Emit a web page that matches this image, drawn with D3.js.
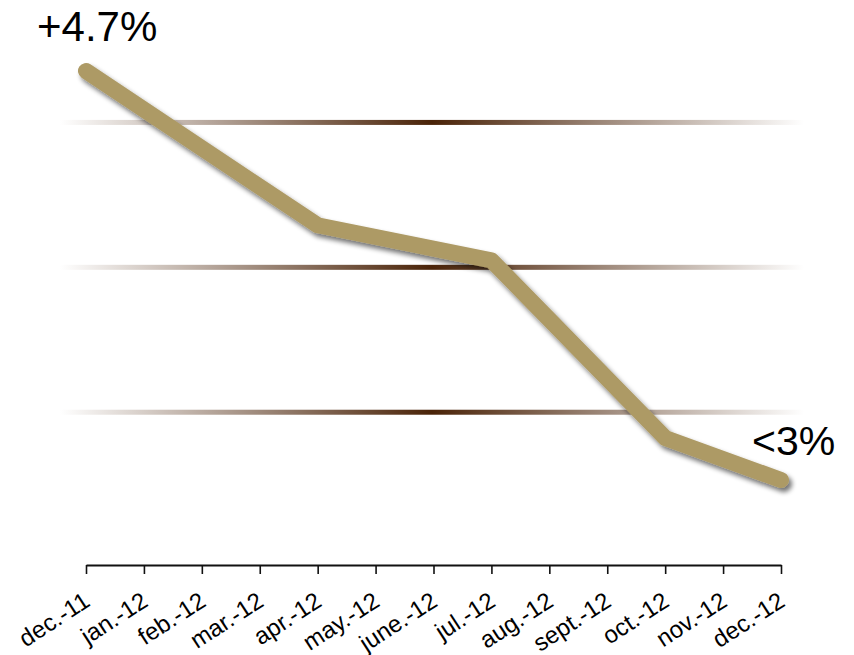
<!DOCTYPE html>
<html>
<head>
<meta charset="utf-8">
<script src="https://cdn.jsdelivr.net/npm/d3@7"></script>
<style>
  html, body { margin: 0; padding: 0; background: #fff; }
  svg { display: block; }
  text { font-family: "Liberation Sans", Arial, sans-serif; }
</style>
</head>
<body>
<svg id="chart" width="854" height="655"></svg>
<script>
// Monthly categories along the x axis
const months = ["dec.-11", "jan.-12", "feb.-12", "mar.-12", "apr.-12", "may.-12",
  "june.-12", "jul.-12", "aug.-12", "sept.-12", "oct.-12", "nov.-12", "dec.-12"];

// Growth rate (%) at the turning points of the trend
const pointMonths = ["dec.-11", "apr.-12", "jul.-12", "oct.-12", "dec.-12"];
const pointValues = [4.7, 4.04, 3.89, 3.13, 2.95];

// Horizontal reference levels (%)
const gridValues = [4.48, 3.86, 3.24];

// End-point annotations
const labelTexts = ["+4.7%", "<3%"];

const svg = d3.select("#chart");

const x = d3.scalePoint().domain(months).range([86, 781]);
const y = d3.scaleLinear().domain([2.95, 4.7]).range([480, 71]);

const defs = svg.append("defs");

// Gridline gradient: fades in from the edges to a dark brown centre
const grad = defs.append("linearGradient")
  .attr("id", "gridGrad")
  .attr("gradientUnits", "userSpaceOnUse")
  .attr("x1", 60).attr("x2", 804).attr("y1", 0).attr("y2", 0);
grad.append("stop").attr("offset", "0%").attr("stop-color", "#ffffff");
grad.append("stop").attr("offset", "50%").attr("stop-color", "#4a2308");
grad.append("stop").attr("offset", "100%").attr("stop-color", "#ffffff");

// Soft drop shadow under the trend line
const shadow = defs.append("filter")
  .attr("id", "shadow")
  .attr("x", "-10%").attr("y", "-10%").attr("width", "130%").attr("height", "130%");
shadow.append("feGaussianBlur").attr("in", "SourceAlpha").attr("stdDeviation", 2.5).attr("result", "blur");
shadow.append("feOffset").attr("in", "blur").attr("dx", 3).attr("dy", 4).attr("result", "off");
shadow.append("feComponentTransfer").attr("in", "off").attr("result", "shade")
  .append("feFuncA").attr("type", "linear").attr("slope", 0.55);
const merge = shadow.append("feMerge");
merge.append("feMergeNode").attr("in", "shade");
merge.append("feMergeNode").attr("in", "SourceGraphic");

// Gridlines
svg.append("g").selectAll("rect")
  .data(gridValues)
  .join("rect")
  .attr("x", 60)
  .attr("width", 744)
  .attr("y", d => y(d) - 2.5)
  .attr("height", 5)
  .attr("fill", "url(#gridGrad)");

// X axis
const axis = d3.axisBottom(x).tickSize(9).tickSizeOuter(0);
const gx = svg.append("g")
  .attr("transform", "translate(0,565)")
  .call(axis);
gx.attr("font-size", null).attr("font-family", null);
gx.select(".domain").attr("stroke", "#111").attr("stroke-width", 2);
gx.selectAll(".tick line").attr("stroke", "#111").attr("stroke-width", 1.6);
gx.selectAll(".tick text")
  .attr("font-size", 24)
  .style("font-size", "24px")
  .attr("fill", "#000")
  .attr("text-anchor", "end")
  .attr("y", 0)
  .attr("dy", 0)
  .attr("transform", "translate(5,40) rotate(-33)");

// Trend line
const line = d3.line()
  .x((d, i) => x(pointMonths[i]))
  .y(d => y(d));

svg.append("path")
  .datum(pointValues)
  .attr("d", line)
  .attr("fill", "none")
  .attr("stroke", "#ad9a65")
  .attr("stroke-width", 16)
  .attr("stroke-linecap", "round")
  .attr("stroke-linejoin", "round")
  .attr("filter", "url(#shadow)");

// Annotations
svg.append("text")
  .attr("x", 37).attr("y", 41)
  .attr("font-size", 42)
  .attr("fill", "#000")
  .text(labelTexts[0]);

svg.append("text")
  .attr("x", 752).attr("y", 455)
  .attr("font-size", 41)
  .attr("fill", "#000")
  .text(labelTexts[1]);
</script>
</body>
</html>
